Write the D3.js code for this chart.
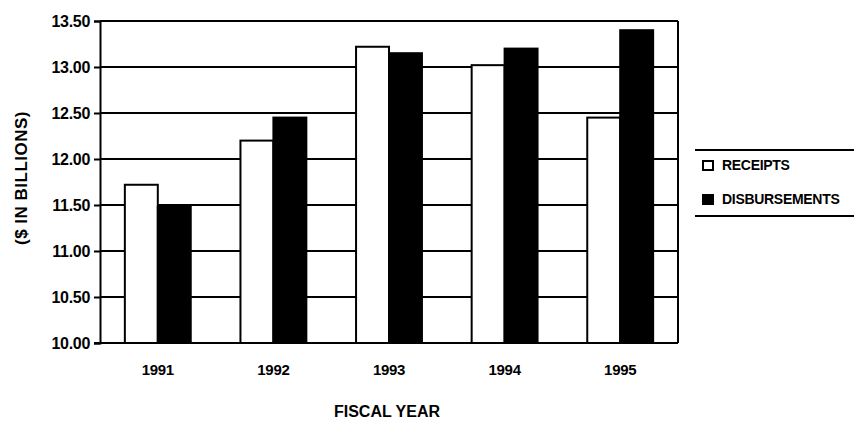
<!DOCTYPE html>
<html>
<head>
<meta charset="utf-8">
<script src="https://cdn.jsdelivr.net/npm/d3@7"></script>
<style>
  body { margin: 0; background: #fff; }
  svg text { font-family: "Liberation Sans", Arial, sans-serif; font-weight: bold; fill: #000; }
</style>
</head>
<body>
<svg width="854" height="421"></svg>
<script>
var years = ["1991", "1992", "1993", "1994", "1995"];
var receipts = [11.72, 12.20, 13.22, 13.02, 12.45];
var disbursements = [11.48, 12.45, 13.15, 13.20, 13.40];
var seriesNames = ["RECEIPTS", "DISBURSEMENTS"];
var seriesColors = ["#ffffff", "#000000"];
var yTicks = [10, 10.5, 11, 11.5, 12, 12.5, 13, 13.5];

var svg = d3.select("svg");
// note: "top" is taken by window.top, so plot edges get their own names
var plotL = 100, plotR = 678, plotT = 21, plotB = 343;

var x = d3.scaleBand().domain(years).range([plotL, plotR]).paddingInner(0.43).paddingOuter(0.215);
var xs = d3.scaleBand().domain(seriesNames).range([0, x.bandwidth()]);
var y = d3.scaleLinear().domain([10, 13.5]).range([plotB, plotT]);

// gridlines
svg.append("g").selectAll("line")
    .data(yTicks)
    .join("line")
    .attr("x1", plotL).attr("x2", plotR)
    .attr("y1", d => y(d)).attr("y2", d => y(d))
    .attr("stroke", "#000").attr("stroke-width", 2);

// right border
svg.append("line")
    .attr("x1", plotR).attr("x2", plotR)
    .attr("y1", plotT).attr("y2", plotB)
    .attr("stroke", "#000").attr("stroke-width", 2);

// bars
var rows = years.map((yr, i) => ({year: yr, vals: [receipts[i], disbursements[i]]}));
var groups = svg.append("g").selectAll("g")
    .data(rows)
    .join("g")
    .attr("transform", d => "translate(" + x(d.year) + ",0)");
groups.selectAll("rect")
    .data(d => d.vals.map((v, j) => ({name: seriesNames[j], v: v, c: seriesColors[j]})))
    .join("rect")
    .attr("x", d => xs(d.name))
    .attr("y", d => y(d.v))
    .attr("width", xs.bandwidth())
    .attr("height", d => y(10) - y(d.v))
    .attr("fill", d => d.c)
    .attr("stroke", "#000")
    .attr("stroke-width", 2);

// y axis
var yAxis = svg.append("g")
    .attr("transform", "translate(" + plotL + ",0)")
    .call(d3.axisLeft(y).tickValues(yTicks).tickFormat(d3.format(".2f")).tickSize(6).tickPadding(4));
yAxis.select(".domain").attr("stroke-width", 2);
yAxis.selectAll(".tick line").attr("stroke-width", 2);
yAxis.selectAll("text").style("font-size", "16px").attr("letter-spacing", "-0.3");

// x axis
var xAxis = svg.append("g")
    .attr("transform", "translate(0," + plotB + ")")
    .call(d3.axisBottom(x).tickSize(0).tickPadding(21));
xAxis.select(".domain").attr("stroke-width", 2).attr("d", "M" + (plotL - 6) + ",0H" + plotR);
xAxis.selectAll("text").style("font-size", "15px").attr("letter-spacing", "-0.3");

svg.append("text")
    .attr("x", 387).attr("y", 417)
    .attr("text-anchor", "middle")
    .style("font-size", "16px")
    .text("FISCAL YEAR");

svg.append("text")
    .attr("transform", "translate(27,178) rotate(-90)")
    .attr("text-anchor", "middle")
    .style("font-size", "17px")
    .attr("letter-spacing", "0.5")
    .text("($ IN BILLIONS)");

// legend
var lg = svg.append("g");
lg.append("line").attr("x1", 695).attr("x2", 854).attr("y1", 150).attr("y2", 150)
    .attr("stroke", "#000").attr("stroke-width", 2);
lg.append("line").attr("x1", 695).attr("x2", 854).attr("y1", 216).attr("y2", 216)
    .attr("stroke", "#000").attr("stroke-width", 2);
var items = lg.selectAll("g.item")
    .data(seriesNames)
    .join("g")
    .attr("class", "item")
    .attr("transform", (d, i) => "translate(703," + (165 + i * 34) + ")");
items.append("rect")
    .attr("x", 0).attr("y", -4).attr("width", 10).attr("height", 9)
    .attr("fill", (d, i) => seriesColors[i])
    .attr("stroke", "#000").attr("stroke-width", 2);
items.append("text")
    .attr("x", 19).attr("y", 5)
    .style("font-size", "14px")
    .attr("letter-spacing", "-0.3")
    .text(d => d);
</script>
</body>
</html>
